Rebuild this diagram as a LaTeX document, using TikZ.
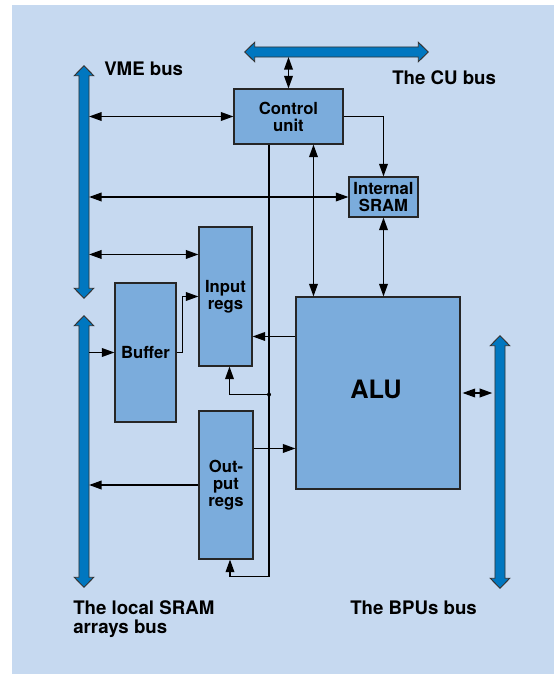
\documentclass[tikz,border=0pt]{standalone}
\usepackage{fontspec}
\setmainfont{TeX Gyre Heros}
\usetikzlibrary{arrows.meta,positioning,calc}
\definecolor{bgblue}{RGB}{198,217,240}
\definecolor{boxblue}{RGB}{123,172,220}
\definecolor{busblue}{RGB}{0,119,192}

% outlined bus arrows drawn round an invisible shaft node
\newcommand{\vbus}[1]{\filldraw[busdraw] (#1.south west) -- (#1.north west) -- ++(-4.75,0)
  -- ($(#1.north)+(0,-10)$) -- ($(#1.north east)+(4.75,0)$) -- (#1.north east)
  -- (#1.south east) -- ++(4.75,0) -- ($(#1.south)+(0,10)$)
  -- ($(#1.south west)+(-4.75,0)$) -- cycle;}
\newcommand{\hbus}[1]{\filldraw[busdraw] (#1.north west) -- (#1.north east) -- ++(0,-4.75)
  -- ($(#1.east)+(10,0)$) -- ($(#1.south east)+(0,4.75)$) -- (#1.south east)
  -- (#1.south west) -- ++(0,4.75) -- ($(#1.west)+(-10,0)$)
  -- ($(#1.north west)+(0,-4.75)$) -- cycle;}

\begin{document}
\begin{tikzpicture}[x=0.75pt,y=-0.75pt,
      wh/.style 2 args={minimum width=#1*0.75pt,minimum height=#2*0.75pt},
      box/.style={rectangle,draw=black!85,fill=boxblue,line width=0.8pt,inner sep=0pt,
                  font=\fontsize{12.5}{12.75}\selectfont\bfseries,align=center},
      shaft/.style={rectangle,inner sep=0pt},
      busdraw/.style={draw=black!80,fill=busblue,line width=0.7pt},
      buslabel/.style={font=\fontsize{14}{14.5}\selectfont\bfseries,align=left,inner sep=0pt},
      arr/.style={-{Triangle[length=9.5pt,width=6.5pt]},line width=1.2pt},
      darr/.style={{Triangle[length=9.5pt,width=6.5pt]}-{Triangle[length=9.5pt,width=6.5pt]},line width=1.2pt}
    ]
      \useasboundingbox (0,0) rectangle (554,674);
      \fill[bgblue] (12,5) rectangle (554,674);

      \node[shaft,wh={9.5}{212}] (vme) at (84,182) {};
      \node[shaft,wh={9.5}{251}] (local) at (84,451.5) {};
      \node[shaft,wh={9.5}{232}] (bpu) at (500,462) {};
      \node[shaft,wh={163}{9.5}] (cubus) at (336.5,52) {};
      \vbus{vme} \vbus{local} \vbus{bpu} \hbus{cubus}

      \node[box,wh={109}{55}] (cu) at (288.5,116.5) {Control\\unit};
      \node[box,wh={69}{40}] (sram) at (383.5,197) {Internal\\SRAM};
      \node[box,wh={53}{139}] (inreg) at (225.5,296.5) {Input\\regs};
      \node[box,wh={61}{139}] (buf) at (145.5,352.5) {Buffer};
      \node[box,wh={54}{148}] (outreg) at (226,485) {Out-\\put\\regs};
      \node[box,wh={164}{192}] (alu) at (378,393) {};
      \node[font=\fontsize{19}{20}\selectfont\bfseries] (alulbl) at ($(alu)+(-2,-4)$) {ALU};

      \node[buslabel,anchor=west] (vmelbl) at (104,68.5) {VME bus};
      \node[buslabel,anchor=west] (culbl) at (392,78) {The CU bus};
      \node[buslabel,anchor=north west] (locallbl) at (73,600.5) {The local SRAM\\arrays bus};
      \node[buslabel,anchor=west] (bpulbl) at (350,608) {The BPUs bus};

      \coordinate (inlink) at ($(inreg.north west)+(0,28)$);
      \coordinate (cualu) at ($(alu.north west)+(18,0)$);
      \coordinate (aluin) at ($(alu.north west)+(0,40)$);
      \coordinate (aluout) at ($(alu.north west)+(0,152)$);
      \coordinate (ctl) at ($(cu.south)+(-19.5,0)$);
      \coordinate (infb) at ($(inreg.south)+(4,28)$);
      \coordinate (outfb) at ($(outreg.south)+(4,17)$);

      \draw[darr] (cu.north) -- (cu.north |- cubus.south);
      \draw[darr] (vme.east |- cu.west) -- (cu.west);
      \draw[arr] (cu.east) -| (sram.north);
      \draw[darr] (vme.east |- sram.west) -- (sram.west);
      \draw[darr] (vme.east |- inlink) -- (inlink);
      \draw[darr] (cualu |- cu.south) -- (cualu);
      \draw[darr] (sram.south) -- (sram.south |- alu.north);
      \draw[arr] (local.east |- buf.west) -- (buf.west);
      \draw[arr] (buf.east) -- ++(6,0) |- (inreg.west);
      \draw[arr] (aluin) -- (aluin -| inreg.east);
      \draw[arr] (aluout -| outreg.east) -- (aluout);
      \draw[arr] (outreg.west) -- (outreg.west -| local.east);
      \draw[darr,shorten <=1.5pt,shorten >=2pt] (alu.east) -- (alu.east -| bpu.west);
      \draw[arr] (ctl) |- (outfb) -- (outfb |- outreg.south);
      \draw[arr] (ctl |- infb) -- (infb) -- (infb |- inreg.south);
      \fill (ctl |- infb) circle (2);
    \end{tikzpicture}
\end{document}
